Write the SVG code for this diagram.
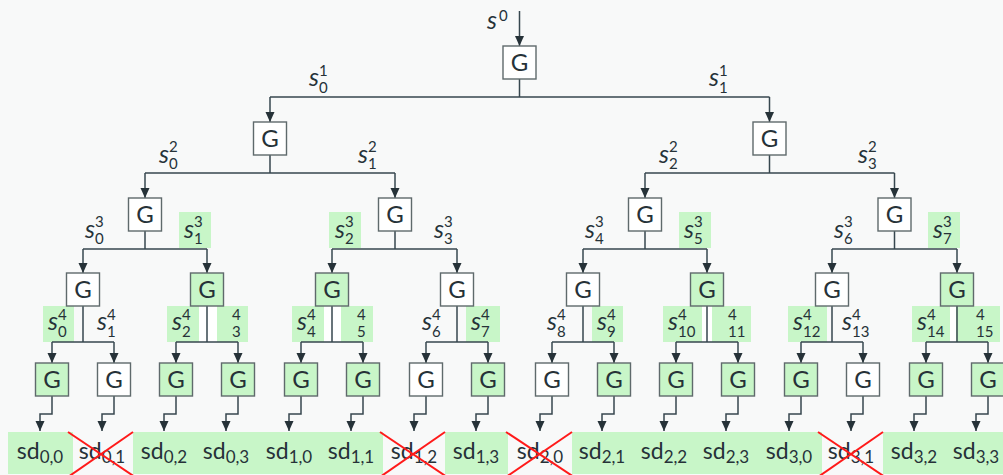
<svg xmlns="http://www.w3.org/2000/svg" width="1003" height="475" viewBox="0 0 1003 475">
<defs>
<style>
.bg{fill:#f8f9f9}
.box{fill:#ffffff;stroke:#5f6a6c;stroke-width:1.4}
.box.hl{fill:#c8f6c8}
.g{font-family:"Lato","Open Sans",sans-serif;font-size:24px;fill:#263238;text-anchor:middle}
.s{font-family:"Lato","Open Sans",sans-serif;font-style:italic;font-size:25px;fill:#263238}
.d{font-family:"Lato","Open Sans",sans-serif;font-size:15px;fill:#263238}
.sd{font-family:"Lato","Open Sans",sans-serif;font-size:23px;fill:#263238;text-anchor:middle}
.hl{fill:#c8f6c8}
.wt{fill:#ffffff}
.ln{fill:none;stroke:#37474f;stroke-width:1.5}
.ar{fill:none;stroke:#37474f;stroke-width:1.5;marker-end:url(#arr)}
.x{stroke:#ff1a1a;stroke-width:2}
</style>
<marker id="arr" markerUnits="userSpaceOnUse" markerWidth="10" markerHeight="10" refX="10" refY="4.5" orient="auto">
<path d="M0,0 L10,4.5 L0,9 z" fill="#263238"/>
</marker>
</defs>
<rect class="bg" x="0" y="0" width="1003" height="475"/>

<!-- label highlight backgrounds -->
<g id="label-bgs">
<rect class="hl" x="179" y="212" width="32" height="36"/>
<rect class="hl" x="329" y="212" width="32" height="36"/>
<rect class="hl" x="679" y="212" width="32" height="36"/>
<rect class="hl" x="928" y="212" width="32" height="36"/>
<rect class="hl" x="43" y="306" width="31" height="36"/>
<rect class="hl" x="167" y="306" width="32" height="36"/>
<rect class="wt" x="199" y="306" width="18" height="36"/>
<rect class="hl" x="217" y="306" width="31" height="36"/>
<rect class="hl" x="292" y="306" width="32" height="36"/>
<rect class="wt" x="324" y="306" width="17" height="36"/>
<rect class="hl" x="341" y="306" width="32" height="36"/>
<rect class="hl" x="466" y="306" width="34" height="36"/>
<rect class="hl" x="592" y="306" width="31" height="36"/>
<rect class="hl" x="663" y="306" width="39" height="36"/>
<rect class="wt" x="702" y="306" width="10" height="36"/>
<rect class="hl" x="712" y="306" width="39" height="36"/>
<rect class="hl" x="788" y="306" width="39" height="36"/>
<rect class="hl" x="912" y="306" width="38" height="36"/>
<rect class="wt" x="950" y="306" width="6" height="36"/>
<rect class="hl" x="956" y="306" width="44" height="36"/>
</g>

<!-- bottom output band -->
<g id="outputs">
<rect class="hl" x="8" y="432" width="65" height="42"/>
<rect class="hl" x="133" y="432" width="250" height="42"/>
<rect class="hl" x="445" y="432" width="63" height="42"/>
<rect class="hl" x="572" y="432" width="250" height="42"/>
<rect class="hl" x="883" y="432" width="120" height="42"/>
<text class="sd" x="40" y="459">sd<tspan font-size="17" dy="4">0,0</tspan></text>
<text class="sd" x="102" y="459">sd<tspan font-size="17" dy="4">0,1</tspan></text>
<text class="sd" x="164" y="459">sd<tspan font-size="17" dy="4">0,2</tspan></text>
<text class="sd" x="226" y="459">sd<tspan font-size="17" dy="4">0,3</tspan></text>
<text class="sd" x="289" y="459">sd<tspan font-size="17" dy="4">1,0</tspan></text>
<text class="sd" x="351" y="459">sd<tspan font-size="17" dy="4">1,1</tspan></text>
<text class="sd" x="414" y="459">sd<tspan font-size="17" dy="4">1,2</tspan></text>
<text class="sd" x="476" y="459">sd<tspan font-size="17" dy="4">1,3</tspan></text>
<text class="sd" x="540" y="459">sd<tspan font-size="17" dy="4">2,0</tspan></text>
<text class="sd" x="602" y="459">sd<tspan font-size="17" dy="4">2,1</tspan></text>
<text class="sd" x="664" y="459">sd<tspan font-size="17" dy="4">2,2</tspan></text>
<text class="sd" x="726" y="459">sd<tspan font-size="17" dy="4">2,3</tspan></text>
<text class="sd" x="789" y="459">sd<tspan font-size="17" dy="4">3,0</tspan></text>
<text class="sd" x="851" y="459">sd<tspan font-size="17" dy="4">3,1</tspan></text>
<text class="sd" x="914" y="459">sd<tspan font-size="17" dy="4">3,2</tspan></text>
<text class="sd" x="976" y="459">sd<tspan font-size="17" dy="4">3,3</tspan></text>
<line class="x" x1="68" y1="432" x2="135" y2="477"/><line class="x" x1="133" y1="432" x2="68" y2="477"/>
<line class="x" x1="380" y1="432" x2="447" y2="477"/><line class="x" x1="445" y1="432" x2="380" y2="477"/>
<line class="x" x1="506" y1="432" x2="574" y2="477"/><line class="x" x1="572" y1="432" x2="506" y2="477"/>
<line class="x" x1="818" y1="432" x2="885" y2="477"/><line class="x" x1="883" y1="432" x2="818" y2="477"/>
</g>

<!-- connectors -->
<g id="connectors">
<path class="ar" d="M519.5,11 V46"/>
<path class="ln" d="M519.5,79 V97 M270,97 H769.5"/>
<path class="ar" d="M270,97 V122"/><path class="ar" d="M769.5,97 V122"/>
<path class="ln" d="M270,155 V173 M145,173 H395 M769.5,155 V173 M645,173 H894.5"/>
<path class="ar" d="M145,173 V198"/><path class="ar" d="M395,173 V198"/>
<path class="ar" d="M645,173 V198"/><path class="ar" d="M894.5,173 V198"/>
<path class="ln" d="M145,231 V249 M83,249 H207 M395,231 V249 M332,249 H457 M645,231 V249 M583,249 H707 M894.5,231 V249 M832,249 H957"/>
<path class="ar" d="M83,249 V273"/><path class="ar" d="M207,249 V273"/>
<path class="ar" d="M332,249 V273"/><path class="ar" d="M457,249 V273"/>
<path class="ar" d="M583,249 V273"/><path class="ar" d="M707,249 V273"/>
<path class="ar" d="M832,249 V273"/><path class="ar" d="M957,249 V273"/>
<path class="ln" d="M83,306 V342 M52,342 H114 M207,306 V342 M176,342 H238 M332,306 V342 M301,342 H363 M457,306 V342 M426,342 H488 M583,306 V342 M552,342 H614 M707,306 V342 M676,342 H738 M832,306 V342 M801,342 H863 M957,306 V342 M926,342 H988"/>
<path class="ar" d="M52,342 V363"/><path class="ar" d="M114,342 V363"/>
<path class="ar" d="M176,342 V363"/><path class="ar" d="M238,342 V363"/>
<path class="ar" d="M301,342 V363"/><path class="ar" d="M363,342 V363"/>
<path class="ar" d="M426,342 V363"/><path class="ar" d="M488,342 V363"/>
<path class="ar" d="M552,342 V363"/><path class="ar" d="M614,342 V363"/>
<path class="ar" d="M676,342 V363"/><path class="ar" d="M738,342 V363"/>
<path class="ar" d="M801,342 V363"/><path class="ar" d="M863,342 V363"/>
<path class="ar" d="M926,342 V363"/><path class="ar" d="M988,342 V363"/>
<path class="ar" d="M52,396 V414 H40 V431"/><path class="ar" d="M114,396 V414 H102 V431"/>
<path class="ar" d="M176,396 V414 H164 V431"/><path class="ar" d="M238,396 V414 H226 V431"/>
<path class="ar" d="M301,396 V414 H289 V431"/><path class="ar" d="M363,396 V414 H351 V431"/>
<path class="ar" d="M426,396 V414 H414 V431"/><path class="ar" d="M488,396 V414 H476 V431"/>
<path class="ar" d="M552,396 V414 H540 V431"/><path class="ar" d="M614,396 V414 H602 V431"/>
<path class="ar" d="M676,396 V414 H664 V431"/><path class="ar" d="M738,396 V414 H726 V431"/>
<path class="ar" d="M801,396 V414 H789 V431"/><path class="ar" d="M863,396 V414 H851 V431"/>
<path class="ar" d="M926,396 V414 H914 V431"/><path class="ar" d="M988,396 V414 H976 V431"/>
</g>

<!-- edge labels -->
<g id="labels">
<text class="s" x="487" y="29">s</text><text class="d" x="499" y="21">0</text>
<text class="s" x="309" y="86">s</text><text class="d" x="319" y="76">1</text><text class="d" x="319" y="93">0</text>
<text class="s" x="709" y="86">s</text><text class="d" x="719" y="76">1</text><text class="d" x="719" y="93">1</text>
<text class="s" x="159" y="163">s</text><text class="d" x="169" y="152">2</text><text class="d" x="169" y="169">0</text>
<text class="s" x="358" y="163">s</text><text class="d" x="368" y="152">2</text><text class="d" x="368" y="169">1</text>
<text class="s" x="659" y="163">s</text><text class="d" x="669" y="152">2</text><text class="d" x="669" y="169">2</text>
<text class="s" x="858" y="163">s</text><text class="d" x="868" y="152">2</text><text class="d" x="868" y="169">3</text>
<text class="s" x="85" y="238">s</text><text class="d" x="95" y="227">3</text><text class="d" x="95" y="244">0</text>
<text class="s" x="184" y="238">s</text><text class="d" x="194" y="227">3</text><text class="d" x="194" y="244">1</text>
<text class="s" x="335" y="238">s</text><text class="d" x="345" y="227">3</text><text class="d" x="345" y="244">2</text>
<text class="s" x="434" y="238">s</text><text class="d" x="444" y="227">3</text><text class="d" x="444" y="244">3</text>
<text class="s" x="585" y="238">s</text><text class="d" x="595" y="227">3</text><text class="d" x="595" y="244">4</text>
<text class="s" x="684" y="238">s</text><text class="d" x="694" y="227">3</text><text class="d" x="694" y="244">5</text>
<text class="s" x="834" y="238">s</text><text class="d" x="844" y="227">3</text><text class="d" x="844" y="244">6</text>
<text class="s" x="933" y="238">s</text><text class="d" x="943" y="227">3</text><text class="d" x="943" y="244">7</text>
<text class="s" x="48" y="330">s</text><text class="d" x="58" y="320">4</text><text class="d" x="58" y="337">0</text>
<text class="s" x="97" y="330">s</text><text class="d" x="107" y="320">4</text><text class="d" x="107" y="337">1</text>
<text class="s" x="172" y="330">s</text><text class="d" x="182" y="320">4</text><text class="d" x="182" y="337">2</text>
<text class="d" x="232" y="320">4</text><text class="d" x="232" y="337">3</text>
<text class="s" x="297" y="330">s</text><text class="d" x="307" y="320">4</text><text class="d" x="307" y="337">4</text>
<text class="d" x="357" y="320">4</text><text class="d" x="357" y="337">5</text>
<text class="s" x="422" y="330">s</text><text class="d" x="432" y="320">4</text><text class="d" x="432" y="337">6</text>
<text class="s" x="471" y="330">s</text><text class="d" x="481" y="320">4</text><text class="d" x="481" y="337">7</text>
<text class="s" x="547" y="330">s</text><text class="d" x="557" y="320">4</text><text class="d" x="557" y="337">8</text>
<text class="s" x="597" y="330">s</text><text class="d" x="607" y="320">4</text><text class="d" x="607" y="337">9</text>
<text class="s" x="668" y="330">s</text><text class="d" x="678" y="320">4</text><text class="d" x="678" y="337">10</text>
<text class="d" x="728" y="320">4</text><text class="d" x="728" y="337">11</text>
<text class="s" x="793" y="330">s</text><text class="d" x="803" y="320">4</text><text class="d" x="803" y="337">12</text>
<text class="s" x="842" y="330">s</text><text class="d" x="852" y="320">4</text><text class="d" x="852" y="337">13</text>
<text class="s" x="917" y="330">s</text><text class="d" x="927" y="320">4</text><text class="d" x="927" y="337">14</text>
<text class="d" x="976" y="320">4</text><text class="d" x="976" y="337">15</text>
</g>

<!-- nodes -->
<g id="n-root"><rect class="box" x="503" y="46" width="33" height="33"/><text class="g" x="519.5" y="71">G</text></g>
<g id="n-1-0"><rect class="box" x="253.5" y="122" width="33" height="33"/><text class="g" x="270" y="147">G</text></g>
<g id="n-1-1"><rect class="box" x="753" y="122" width="33" height="33"/><text class="g" x="769.5" y="147">G</text></g>
<g id="n-2-0"><rect class="box" x="128.5" y="198" width="33" height="33"/><text class="g" x="145" y="223">G</text></g>
<g id="n-2-1"><rect class="box" x="378.5" y="198" width="33" height="33"/><text class="g" x="395" y="223">G</text></g>
<g id="n-2-2"><rect class="box" x="628.5" y="198" width="33" height="33"/><text class="g" x="645" y="223">G</text></g>
<g id="n-2-3"><rect class="box" x="878" y="198" width="33" height="33"/><text class="g" x="894.5" y="223">G</text></g>
<g id="n-3-0"><rect class="box" x="66.5" y="273" width="33" height="33"/><text class="g" x="83" y="298">G</text></g>
<g id="n-3-1"><rect class="box hl" x="190.5" y="273" width="33" height="33"/><text class="g" x="207" y="298">G</text></g>
<g id="n-3-2"><rect class="box hl" x="315.5" y="273" width="33" height="33"/><text class="g" x="332" y="298">G</text></g>
<g id="n-3-3"><rect class="box" x="440.5" y="273" width="33" height="33"/><text class="g" x="457" y="298">G</text></g>
<g id="n-3-4"><rect class="box" x="566.5" y="273" width="33" height="33"/><text class="g" x="583" y="298">G</text></g>
<g id="n-3-5"><rect class="box hl" x="690.5" y="273" width="33" height="33"/><text class="g" x="707" y="298">G</text></g>
<g id="n-3-6"><rect class="box" x="815.5" y="273" width="33" height="33"/><text class="g" x="832" y="298">G</text></g>
<g id="n-3-7"><rect class="box hl" x="940.5" y="273" width="33" height="33"/><text class="g" x="957" y="298">G</text></g>
<g id="n-4-0"><rect class="box hl" x="35.5" y="363" width="33" height="33"/><text class="g" x="52" y="388">G</text></g>
<g id="n-4-1"><rect class="box" x="97.5" y="363" width="33" height="33"/><text class="g" x="114" y="388">G</text></g>
<g id="n-4-2"><rect class="box hl" x="159.5" y="363" width="33" height="33"/><text class="g" x="176" y="388">G</text></g>
<g id="n-4-3"><rect class="box hl" x="221.5" y="363" width="33" height="33"/><text class="g" x="238" y="388">G</text></g>
<g id="n-4-4"><rect class="box hl" x="284.5" y="363" width="33" height="33"/><text class="g" x="301" y="388">G</text></g>
<g id="n-4-5"><rect class="box hl" x="346.5" y="363" width="33" height="33"/><text class="g" x="363" y="388">G</text></g>
<g id="n-4-6"><rect class="box" x="409.5" y="363" width="33" height="33"/><text class="g" x="426" y="388">G</text></g>
<g id="n-4-7"><rect class="box hl" x="471.5" y="363" width="33" height="33"/><text class="g" x="488" y="388">G</text></g>
<g id="n-4-8"><rect class="box" x="535.5" y="363" width="33" height="33"/><text class="g" x="552" y="388">G</text></g>
<g id="n-4-9"><rect class="box hl" x="597.5" y="363" width="33" height="33"/><text class="g" x="614" y="388">G</text></g>
<g id="n-4-10"><rect class="box hl" x="659.5" y="363" width="33" height="33"/><text class="g" x="676" y="388">G</text></g>
<g id="n-4-11"><rect class="box hl" x="721.5" y="363" width="33" height="33"/><text class="g" x="738" y="388">G</text></g>
<g id="n-4-12"><rect class="box hl" x="784.5" y="363" width="33" height="33"/><text class="g" x="801" y="388">G</text></g>
<g id="n-4-13"><rect class="box" x="846.5" y="363" width="33" height="33"/><text class="g" x="863" y="388">G</text></g>
<g id="n-4-14"><rect class="box hl" x="909.5" y="363" width="33" height="33"/><text class="g" x="926" y="388">G</text></g>
<g id="n-4-15"><rect class="box hl" x="971.5" y="363" width="33" height="33"/><text class="g" x="988" y="388">G</text></g>
</svg>
